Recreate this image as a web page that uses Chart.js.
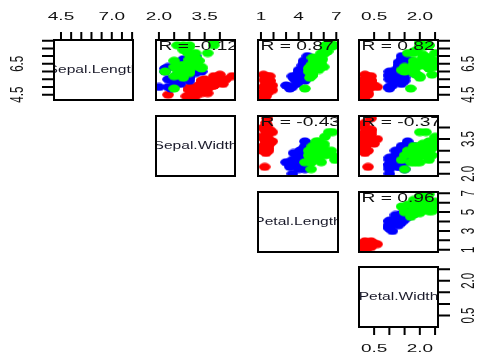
<!DOCTYPE html>
<html>
<head>
<meta charset="utf-8">
<script src="https://cdn.jsdelivr.net/npm/chart.js@4/dist/chart.umd.min.js"></script>
<style>
  html, body { margin: 0; padding: 0; background: #fff; }
  #wrap { position: relative; width: 480px; height: 356px; overflow: hidden; background: #fff; }
  #wrap canvas { position: absolute; left: 0; top: 0; }
</style>
</head>
<body>
<div id="wrap"></div>
<script>
// Edgar Anderson's iris measurements (cm), rows in dataset order
const varNames = ['Sepal.Length', 'Sepal.Width', 'Petal.Length', 'Petal.Width'];

const sepalLength = [
  5.1,4.9,4.7,4.6,5.0,5.4,4.6,5.0,4.4,4.9,5.4,4.8,4.8,4.3,5.8,5.7,5.4,5.1,5.7,5.1,
  5.4,5.1,4.6,5.1,4.8,5.0,5.0,5.2,5.2,4.7,4.8,5.4,5.2,5.5,4.9,5.0,5.5,4.9,4.4,5.1,
  5.0,4.5,4.4,5.0,5.1,4.8,5.1,4.6,5.3,5.0,
  7.0,6.4,6.9,5.5,6.5,5.7,6.3,4.9,6.6,5.2,5.0,5.9,6.0,6.1,5.6,6.7,5.6,5.8,6.2,5.6,
  5.9,6.1,6.3,6.1,6.4,6.6,6.8,6.7,6.0,5.7,5.5,5.5,5.8,6.0,5.4,6.0,6.7,6.3,5.6,5.5,
  5.5,6.1,5.8,5.0,5.6,5.7,5.7,6.2,5.1,5.7,
  6.3,5.8,7.1,6.3,6.5,7.6,4.9,7.3,6.7,7.2,6.5,6.4,6.8,5.7,5.8,6.4,6.5,7.7,7.7,6.0,
  6.9,5.6,7.7,6.3,6.7,7.2,6.2,6.1,6.4,7.2,7.4,7.9,6.4,6.3,6.1,7.7,6.3,6.4,6.0,6.9,
  6.7,6.9,5.8,6.8,6.7,6.7,6.3,6.5,6.2,5.9
];
const sepalWidth = [
  3.5,3.0,3.2,3.1,3.6,3.9,3.4,3.4,2.9,3.1,3.7,3.4,3.0,3.0,4.0,4.4,3.9,3.5,3.8,3.8,
  3.4,3.7,3.6,3.3,3.4,3.0,3.4,3.5,3.4,3.2,3.1,3.4,4.1,4.2,3.1,3.2,3.5,3.6,3.0,3.4,
  3.5,2.3,3.2,3.5,3.8,3.0,3.8,3.2,3.7,3.3,
  3.2,3.2,3.1,2.3,2.8,2.8,3.3,2.4,2.9,2.7,2.0,3.0,2.2,2.9,2.9,3.1,3.0,2.7,2.2,2.5,
  3.2,2.8,2.5,2.8,2.9,3.0,2.8,3.0,2.9,2.6,2.4,2.4,2.7,2.7,3.0,3.4,3.1,2.3,3.0,2.5,
  2.6,3.0,2.6,2.3,2.7,3.0,2.9,2.9,2.5,2.8,
  3.3,2.7,3.0,2.9,3.0,3.0,2.5,2.9,2.5,3.6,3.2,2.7,3.0,2.5,2.8,3.2,3.0,3.8,2.6,2.2,
  3.2,2.8,2.8,2.7,3.3,3.2,2.8,3.0,2.8,3.0,2.8,3.8,2.8,2.8,2.6,3.0,3.4,3.1,3.0,3.1,
  3.1,3.1,2.7,3.2,3.3,3.0,2.5,3.0,3.4,3.0
];
const petalLength = [
  1.4,1.4,1.3,1.5,1.4,1.7,1.4,1.5,1.4,1.5,1.5,1.6,1.4,1.1,1.2,1.5,1.3,1.4,1.7,1.5,
  1.7,1.5,1.0,1.7,1.9,1.6,1.6,1.5,1.4,1.6,1.6,1.5,1.5,1.4,1.5,1.2,1.3,1.4,1.3,1.5,
  1.3,1.3,1.3,1.6,1.9,1.4,1.6,1.4,1.5,1.4,
  4.7,4.5,4.9,4.0,4.6,4.5,4.7,3.3,4.6,3.9,3.5,4.2,4.0,4.7,3.6,4.4,4.5,4.1,4.5,3.9,
  4.8,4.0,4.9,4.7,4.3,4.4,4.8,5.0,4.5,3.5,3.8,3.7,3.9,5.1,4.5,4.5,4.7,4.4,4.1,4.0,
  4.4,4.6,4.0,3.3,4.2,4.2,4.2,4.3,3.0,4.1,
  6.0,5.1,5.9,5.6,5.8,6.6,4.5,6.3,5.8,6.1,5.1,5.3,5.5,5.0,5.1,5.3,5.5,6.7,6.9,5.0,
  5.7,4.9,6.7,4.9,5.7,6.0,4.8,4.9,5.6,5.8,6.1,6.4,5.6,5.1,5.6,6.1,5.6,5.5,4.8,5.4,
  5.6,5.1,5.1,5.9,5.7,5.2,5.0,5.2,5.4,5.1
];
const petalWidth = [
  0.2,0.2,0.2,0.2,0.2,0.4,0.3,0.2,0.2,0.1,0.2,0.2,0.1,0.1,0.2,0.4,0.4,0.3,0.3,0.3,
  0.2,0.4,0.2,0.5,0.2,0.2,0.4,0.2,0.2,0.2,0.2,0.4,0.1,0.2,0.2,0.2,0.2,0.1,0.2,0.2,
  0.3,0.3,0.2,0.6,0.4,0.3,0.2,0.2,0.2,0.2,
  1.4,1.5,1.5,1.3,1.5,1.3,1.6,1.0,1.3,1.4,1.0,1.5,1.0,1.4,1.3,1.4,1.5,1.0,1.5,1.1,
  1.8,1.3,1.5,1.2,1.3,1.4,1.4,1.7,1.5,1.0,1.1,1.0,1.2,1.6,1.5,1.6,1.5,1.3,1.3,1.3,
  1.2,1.4,1.2,1.0,1.3,1.2,1.3,1.3,1.1,1.3,
  2.5,1.9,2.1,1.8,2.2,2.1,1.7,1.8,1.8,2.5,2.0,1.9,2.1,2.0,2.4,2.3,1.8,2.2,2.3,1.5,
  2.3,2.0,2.0,1.8,2.1,1.8,1.8,1.8,2.1,1.6,1.9,2.0,2.2,1.5,1.4,2.3,2.4,1.8,1.8,2.1,
  2.4,2.3,1.9,2.3,2.5,2.3,1.9,2.0,2.3,1.8
];

// species come in three consecutive blocks of rows
const speciesNames  = ['setosa', 'versicolor', 'virginica'];
const speciesCounts = [50, 50, 50];
const speciesColors = ['#FF0000', '#0000FF', '#00FF00'];

// axis ticks and the subset of ticks that carry a label
const tickValues = [
  [4.5, 5.0, 5.5, 6.0, 6.5, 7.0, 7.5, 8.0],
  [2.0, 2.5, 3.0, 3.5, 4.0],
  [1, 2, 3, 4, 5, 6, 7],
  [0.5, 1.0, 1.5, 2.0, 2.5]
];
const topTickLabels    = [[4.5, 7.0], [2.0, 3.5], [1, 4, 7], [0.5, 2.0]];
const sideTickLabels   = [[4.5, 6.5], [2.0, 3.5], [1, 3, 5, 7], [0.5, 2.0]];
const bottomTickLabels = [[], [], [], [0.5, 2.0]];
const labelDecimals    = [1, 1, 0, 1];

// Pearson correlations printed in the upper panels
const corrPairs = [[0, 1], [0, 2], [0, 3], [1, 2], [1, 3], [2, 3]];
const corrR     = [-0.12, 0.87, 0.82, -0.43, -0.37, 0.96];

// ---- layout ----
const W = 480, H = 356;
const colLeft  = [54, 156, 258, 359];
const colRight = [133, 235, 338, 438];
const rowTop   = [40, 116, 192, 267];
const rowBot   = [100, 176, 252, 327];
const FONT = '"Liberation Sans", Arial, Helvetica, sans-serif';

const columns = [sepalLength, sepalWidth, petalLength, petalWidth];
const speciesIndex = [];
speciesCounts.forEach((n, s) => { for (let k = 0; k < n; k++) speciesIndex.push(s); });

function rangeOf(v) {
  const lo = Math.min(...v), hi = Math.max(...v), pad = (hi - lo) * 0.04;
  return [lo - pad, hi + pad];
}
const ranges = columns.map(rangeOf);

// filled elliptical markers, one per species
const markers = speciesColors.map(c => {
  const cv = document.createElement('canvas');
  cv.width = 12; cv.height = 9;
  const g = cv.getContext('2d');
  g.fillStyle = c;
  g.beginPath();
  g.ellipse(6, 4.5, 5.8, 4.0, 0, 0, Math.PI * 2);
  g.fill();
  return cv;
});

function fmt(v, d) { return v.toFixed(d); }

// text whose glyphs are widened horizontally by sx
function stretchedText(ctx, text, x, y, size, opts = {}) {
  ctx.save();
  ctx.font = size + 'px ' + FONT;
  ctx.fillStyle = opts.color || '#111';
  ctx.textAlign = opts.align || 'center';
  ctx.textBaseline = opts.baseline || 'middle';
  ctx.translate(x, y);
  ctx.scale(opts.sx || 1.7, 1);
  if (opts.rotate) ctx.rotate(-Math.PI / 2);
  ctx.fillText(text, 0, 0);
  ctx.restore();
}

const TICK_FONT = 11.5, TICK_SX = 1.65;

const pairsPanel = {
  id: 'pairsPanel',
  afterDatasetsDraw(chart, args, o) {
    const ctx = chart.ctx, a = chart.chartArea;
    const xs = chart.scales.x, ys = chart.scales.y;

    // panel text, clipped to the plotting region
    ctx.save();
    ctx.beginPath();
    ctx.rect(a.left, a.top, a.right - a.left, a.bottom - a.top);
    ctx.clip();
    if (o.row === o.col) {
      stretchedText(ctx, varNames[o.row], (a.left + a.right) / 2, (a.top + a.bottom) / 2 + 0.5, 10.4,
                    { color: '#1a1a2a', sx: 1.5 });
    } else {
      const k = corrPairs.findIndex(p => p[0] === o.row && p[1] === o.col);
      if (k >= 0) {
        stretchedText(ctx, 'R = ' + corrR[k].toFixed(2), a.left + 2.5, a.top + 10.2, 12,
                      { align: 'left', baseline: 'alphabetic', color: '#111', sx: 1.6 });
      }
    }
    ctx.restore();

    // box, ticks and tick labels
    ctx.save();
    ctx.strokeStyle = '#000';
    ctx.lineWidth = 2;
    ctx.strokeRect(a.left, a.top, a.right - a.left, a.bottom - a.top);

    const TL = 8, SL = 12;
    ctx.beginPath();
    if (o.top) {
      tickValues[o.col].forEach(v => { const px = xs.getPixelForValue(v); ctx.moveTo(px, a.top); ctx.lineTo(px, a.top - TL); });
    }
    if (o.bottom) {
      tickValues[o.col].forEach(v => { const px = xs.getPixelForValue(v); ctx.moveTo(px, a.bottom); ctx.lineTo(px, a.bottom + TL); });
    }
    if (o.left) {
      tickValues[o.row].forEach(v => { const py = ys.getPixelForValue(v); ctx.moveTo(a.left, py); ctx.lineTo(a.left - SL, py); });
    }
    if (o.right) {
      tickValues[o.row].forEach(v => { const py = ys.getPixelForValue(v); ctx.moveTo(a.right, py); ctx.lineTo(a.right + SL, py); });
    }
    ctx.stroke();

    const tOpts = { sx: TICK_SX };
    const rOpts = { sx: TICK_SX, rotate: true };
    if (o.top) topTickLabels[o.col].forEach(v =>
      stretchedText(ctx, fmt(v, labelDecimals[o.col]), xs.getPixelForValue(v), 17, TICK_FONT, tOpts));
    if (o.bottom) bottomTickLabels[o.col].forEach(v =>
      stretchedText(ctx, fmt(v, labelDecimals[o.col]), xs.getPixelForValue(v), 349, TICK_FONT, tOpts));
    if (o.left) sideTickLabels[o.row].forEach(v =>
      stretchedText(ctx, fmt(v, labelDecimals[o.row]), 18, ys.getPixelForValue(v), TICK_FONT, rOpts));
    if (o.right) sideTickLabels[o.row].forEach(v =>
      stretchedText(ctx, fmt(v, labelDecimals[o.row]), 469, ys.getPixelForValue(v), TICK_FONT, rOpts));
    ctx.restore();
  }
};

const wrap = document.getElementById('wrap');

function makePanel(row, col) {
  const cv = document.createElement('canvas');
  cv.width = W; cv.height = H;
  cv.style.width = W + 'px'; cv.style.height = H + 'px';
  wrap.appendChild(cv);

  const points = [];
  if (col > row) {
    for (let i = 0; i < speciesIndex.length; i++) {
      points.push({ x: columns[col][i], y: columns[row][i] });
    }
  }

  new Chart(cv, {
    type: 'scatter',
    data: {
      datasets: [{
        label: varNames[row] + ' vs ' + varNames[col],
        data: points,
        pointStyle: c => markers[speciesIndex[c.dataIndex]],
        pointRadius: 5,
        pointHoverRadius: 5,
        clip: 0
      }]
    },
    plugins: [pairsPanel],
    options: {
      responsive: false,
      animation: false,
      devicePixelRatio: 1,
      events: [],
      layout: {
        padding: { left: colLeft[col], right: W - colRight[col], top: rowTop[row], bottom: H - rowBot[row] }
      },
      scales: {
        x: { type: 'linear', display: false, min: ranges[col][0], max: ranges[col][1] },
        y: { type: 'linear', display: false, min: ranges[row][0], max: ranges[row][1] }
      },
      plugins: {
        legend: { display: false },
        tooltip: { enabled: false },
        pairsPanel: {
          row, col,
          top: row === 0,
          bottom: row === 3 && col === 3,
          left: col === 0 && row === 0,
          right: col === 3
        }
      }
    }
  });
}

for (let r = 0; r < 4; r++) {
  for (let c = r; c < 4; c++) makePanel(r, c);
}
</script>
</body>
</html>
